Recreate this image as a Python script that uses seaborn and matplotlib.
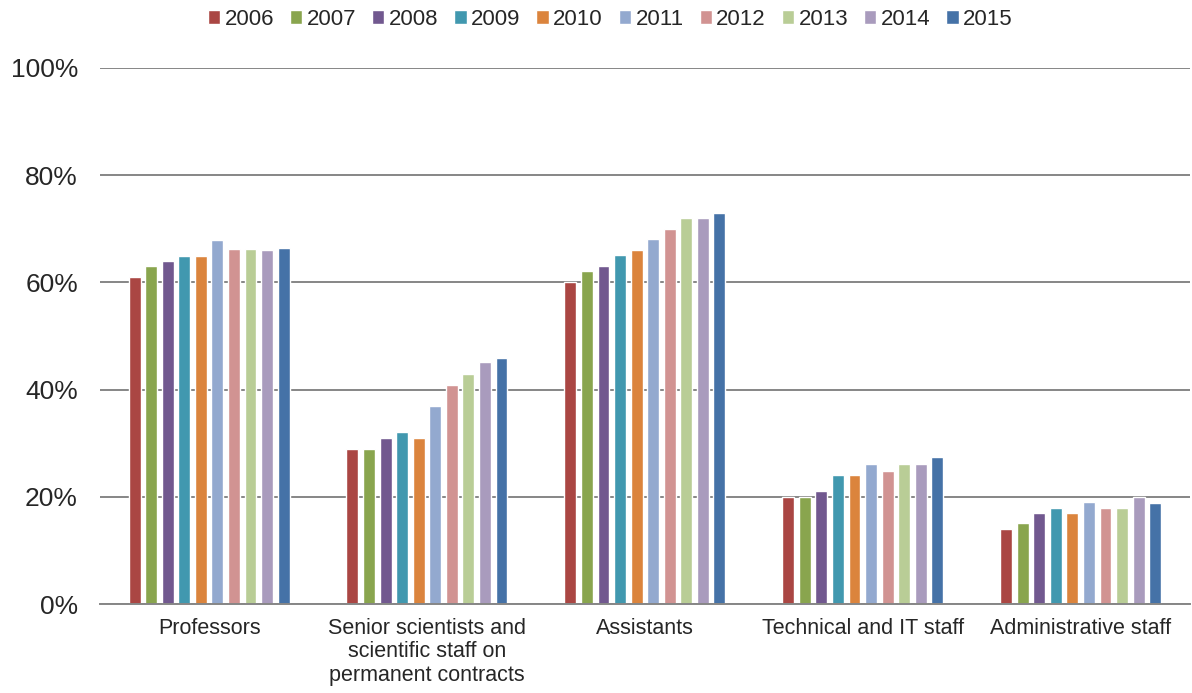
import numpy as np
import pandas as pd
import matplotlib.pyplot as plt
import seaborn as sns
from matplotlib.ticker import PercentFormatter
from matplotlib.patches import Patch

categories = ["Professors",
              "Senior scientists and\nscientific staff on\npermanent contracts",
              "Assistants", "Technical and IT staff", "Administrative staff"]
years = ["2006", "2007", "2008", "2009", "2010",
         "2011", "2012", "2013", "2014", "2015"]

professors = [61, 63, 64, 65, 65, 68, 66.2, 66.2, 66, 66.5]
senior     = [29, 29, 31, 32, 31, 37, 40.9, 43, 45.1, 45.9]
assistants = [60.1, 62.1, 63.1, 65.1, 66.1, 68.1, 70, 72.1, 72.1, 73]
technical  = [20, 20, 21, 24.1, 24.1, 26.1, 24.9, 26.1, 26.1, 27.4]
admin      = [14, 15.1, 17, 18, 17, 19, 17.9, 18, 20, 18.9]

colors = ["#AA4643", "#89A54E", "#71588F", "#4198AF", "#DB843D",
          "#93A9CF", "#D19392", "#B9CD96", "#A99BBD", "#4572A7"]

rows = []
for cat, vals in zip(categories, [professors, senior, assistants, technical, admin]):
    for yr, v in zip(years, vals):
        rows.append({"category": cat, "year": yr, "share": v})
df = pd.DataFrame(rows)

sns.set_style("white")
plt.rcParams["font.family"] = ["Liberation Sans", "DejaVu Sans"]

fig = plt.figure(figsize=(11.92, 6.93), dpi=100)
ax = fig.add_axes([0.084, 0.1284, 0.914, 0.7735])

sns.barplot(data=df, x="category", y="share", hue="year", palette=colors,
            width=0.76, gap=0.28, saturation=1, ax=ax, legend=False)

ax.set_ylim(0, 100)
ax.set_yticks(range(0, 101, 20))
ax.yaxis.set_major_formatter(PercentFormatter(decimals=0))
ax.yaxis.grid(True, color="#868686", linewidth=1.4)
ax.set_axisbelow(True)
for s in ["top", "right", "left"]:
    ax.spines[s].set_visible(False)
ax.spines["bottom"].set_color("#868686")
ax.spines["bottom"].set_linewidth(1.4)
ax.tick_params(axis="y", length=0, labelsize=19, pad=16)
ax.tick_params(axis="x", length=0, labelsize=15.5, pad=10)
for lab in ax.get_xticklabels():
    lab.set_linespacing(1.15)
ax.set_xlabel("")
ax.set_ylabel("")
ax.set_xlim(-0.5, 4.5)

handles = [Patch(facecolor=c) for c in colors]
fig.legend(handles, years, loc="upper center", bbox_to_anchor=(0.512, 1.016),
           ncol=10, frameon=False, fontsize=16, handlelength=0.55,
           handleheight=0.55, handletextpad=0.2, columnspacing=0.72)

fig.savefig("out.png", dpi=100)
